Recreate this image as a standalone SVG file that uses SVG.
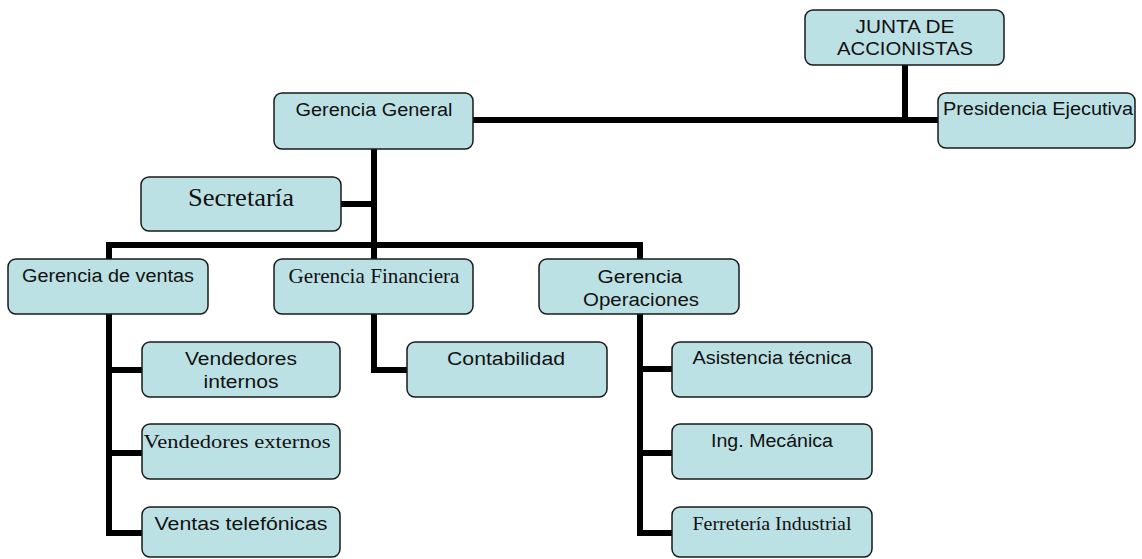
<svg xmlns="http://www.w3.org/2000/svg" width="1142" height="559" viewBox="0 0 1142 559">
  <style>
    .box { fill: #BCE1E4; stroke: #1a1a1a; stroke-width: 1.5; }
    .sans { font-family: "Liberation Sans", Arial, sans-serif; font-size: 18px; fill: #111; text-anchor: middle; }
    .serif { font-family: "Liberation Serif", "Times New Roman", serif; font-size: 18px; fill: #111; text-anchor: middle; }
    .link { fill: none; stroke: #000; stroke-width: 6; stroke-linejoin: miter; stroke-linecap: butt; }
  </style>
  <rect width="1142" height="559" fill="#fff"/>

  <!-- connectors -->
  <g id="connectors">
    <path class="link" d="M905 65 V120"/>
    <path class="link" d="M473 120 H938"/>
    <path class="link" d="M374 149 V259"/>
    <path class="link" d="M341 204 H374"/>
    <path class="link" d="M109 259 V245 H640 V259"/>
    <path class="link" d="M109 314 V533 H142 M109 370 H142 M109 453 H142"/>
    <path class="link" d="M374 314 V370 H407"/>
    <path class="link" d="M640 314 V533 H672 M640 369 H672 M640 453 H672"/>
  </g>

  <g id="junta">
    <rect class="box" x="805" y="10" width="199" height="55" rx="8"/>
    <text class="sans" x="905" y="33" textLength="99" lengthAdjust="spacingAndGlyphs">JUNTA DE</text>
    <text class="sans" x="905" y="55" textLength="136" lengthAdjust="spacingAndGlyphs">ACCIONISTAS</text>
  </g>
  <g id="presidencia">
    <rect class="box" x="938" y="93" width="197" height="55" rx="8"/>
    <text class="sans" x="1038" y="115" textLength="190" lengthAdjust="spacingAndGlyphs">Presidencia Ejecutiva</text>
  </g>
  <g id="gerencia-general">
    <rect class="box" x="274" y="93" width="199" height="56" rx="8"/>
    <text class="sans" x="374" y="116" textLength="157" lengthAdjust="spacingAndGlyphs">Gerencia General</text>
  </g>
  <g id="secretaria">
    <rect class="box" x="141" y="177" width="200" height="54" rx="8"/>
    <text class="serif" x="241" y="206" style="font-size:26px" textLength="106" lengthAdjust="spacingAndGlyphs">Secretaría</text>
  </g>
  <g id="gerencia-ventas">
    <rect class="box" x="8" y="259" width="200" height="55" rx="8"/>
    <text class="sans" x="108" y="282" textLength="172" lengthAdjust="spacingAndGlyphs">Gerencia de ventas</text>
  </g>
  <g id="gerencia-financiera">
    <rect class="box" x="274" y="259" width="199" height="55" rx="8"/>
    <text class="serif" x="374" y="283" style="font-size:21px" textLength="171" lengthAdjust="spacingAndGlyphs">Gerencia Financiera</text>
  </g>
  <g id="gerencia-operaciones">
    <rect class="box" x="539" y="259" width="200" height="55" rx="8"/>
    <text class="sans" x="640" y="283" textLength="85" lengthAdjust="spacingAndGlyphs">Gerencia</text>
    <text class="sans" x="641" y="306" textLength="116" lengthAdjust="spacingAndGlyphs">Operaciones</text>
  </g>
  <g id="vendedores-internos">
    <rect class="box" x="142" y="342" width="198" height="55" rx="8"/>
    <text class="sans" x="241" y="365" textLength="112" lengthAdjust="spacingAndGlyphs">Vendedores</text>
    <text class="sans" x="241" y="388" textLength="75" lengthAdjust="spacingAndGlyphs">internos</text>
  </g>
  <g id="vendedores-externos">
    <rect class="box" x="142" y="424" width="198" height="55" rx="8"/>
    <text class="serif" x="237" y="448" textLength="187" lengthAdjust="spacingAndGlyphs">Vendedores externos</text>
  </g>
  <g id="ventas-telefonicas">
    <rect class="box" x="142" y="507" width="198" height="50" rx="8"/>
    <text class="sans" x="241" y="530" textLength="173" lengthAdjust="spacingAndGlyphs">Ventas telefónicas</text>
  </g>
  <g id="contabilidad">
    <rect class="box" x="407" y="342" width="200" height="55" rx="8"/>
    <text class="sans" x="506" y="365" textLength="118" lengthAdjust="spacingAndGlyphs">Contabilidad</text>
  </g>
  <g id="asistencia-tecnica">
    <rect class="box" x="672" y="342" width="200" height="55" rx="8"/>
    <text class="sans" x="772" y="364" textLength="159" lengthAdjust="spacingAndGlyphs">Asistencia técnica</text>
  </g>
  <g id="ing-mecanica">
    <rect class="box" x="672" y="424" width="200" height="55" rx="8"/>
    <text class="sans" x="772" y="447" textLength="122" lengthAdjust="spacingAndGlyphs">Ing. Mecánica</text>
  </g>
  <g id="ferreteria-industrial">
    <rect class="box" x="672" y="507" width="200" height="50" rx="8"/>
    <text class="serif" x="772" y="530" textLength="159" lengthAdjust="spacingAndGlyphs">Ferretería Industrial</text>
  </g>
</svg>
